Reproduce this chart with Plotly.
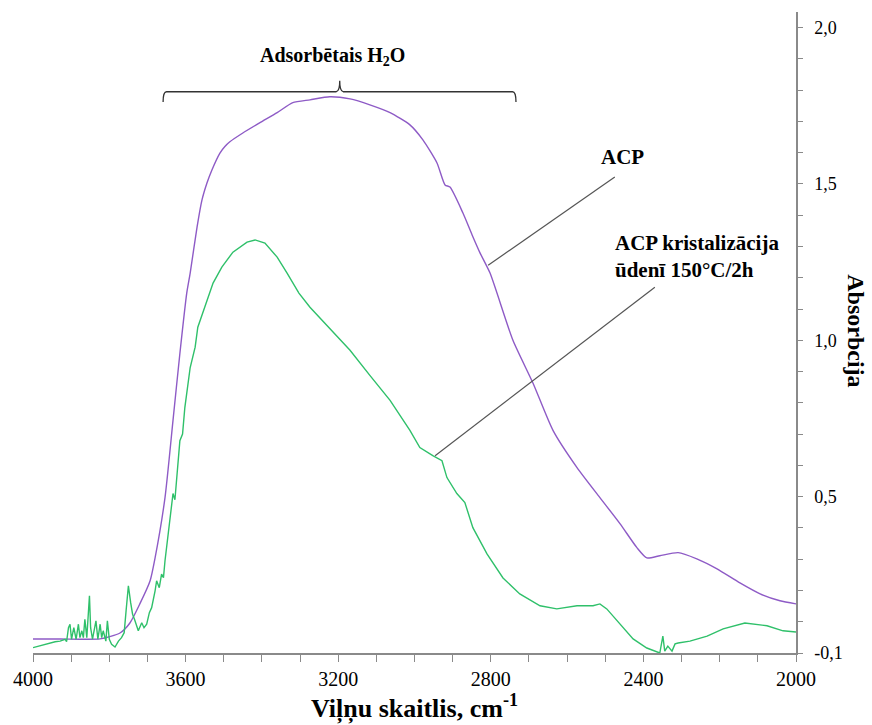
import plotly.graph_objects as go

# ---- data ----
acp_x = [4000, 3929, 3824, 3772, 3746, 3720, 3693, 3680, 3654, 3633, 3615, 3597, 3588, 3570,
         3557, 3544, 3531, 3510, 3497, 3484, 3450, 3405, 3360, 3319, 3274, 3222, 3169, 3117, 3064,
         3012, 2978, 2941, 2920, 2907, 2873, 2849, 2828, 2802, 2742, 2689, 2637, 2574, 2514,
         2461, 2417, 2391, 2357, 2309, 2260, 2207, 2147, 2094, 2042, 2000]
acp_y = [0.045, 0.045, 0.045, 0.064, 0.096, 0.157, 0.231, 0.304, 0.497, 0.744, 0.958, 1.151,
         1.215, 1.362, 1.449, 1.503, 1.545, 1.599, 1.620, 1.635, 1.663, 1.696, 1.728, 1.760, 1.769,
         1.779, 1.772, 1.753, 1.728, 1.689, 1.641, 1.567, 1.497, 1.490, 1.407, 1.337, 1.279,
         1.215, 1.000, 0.862, 0.712, 0.593, 0.497, 0.413, 0.337, 0.304, 0.311, 0.321, 0.301,
         0.269, 0.224, 0.189, 0.167, 0.157]

cryst_x = [4000, 3955, 3942, 3929, 3916, 3912, 3907, 3903, 3899, 3893, 3887, 3881, 3877, 3872,
           3868, 3864, 3859, 3852, 3849, 3844, 3839, 3835, 3830, 3824, 3820, 3816, 3809, 3805,
           3800, 3794, 3785, 3776, 3768, 3761, 3756, 3750, 3744, 3739, 3734, 3728, 3724, 3715,
           3709, 3702, 3695, 3689, 3685, 3680, 3676, 3669, 3663, 3658, 3654, 3646, 3640, 3633,
           3628, 3623, 3615, 3608, 3602, 3588, 3575, 3568, 3549, 3528, 3505, 3476, 3439, 3418,
           3392, 3360, 3334, 3303, 3274, 3222, 3169, 3117, 3064, 3012, 2986, 2952, 2928, 2915,
           2889, 2868, 2847, 2810, 2768, 2724, 2671, 2627, 2574, 2532, 2514, 2496, 2461, 2427,
           2391, 2357, 2349, 2344, 2336, 2325, 2317, 2309, 2278, 2233, 2191, 2134, 2076, 2034, 2000]
cryst_y = [0.017, 0.033, 0.036, 0.038, 0.044, 0.036, 0.081, 0.092, 0.044, 0.081, 0.044, 0.092,
           0.049, 0.071, 0.049, 0.108, 0.049, 0.183, 0.081, 0.044, 0.081, 0.103, 0.044, 0.092,
           0.049, 0.071, 0.038, 0.103, 0.044, 0.028, 0.019, 0.038, 0.049, 0.065, 0.135, 0.215,
           0.161, 0.124, 0.108, 0.081, 0.071, 0.097, 0.081, 0.092, 0.129, 0.145, 0.167, 0.199,
           0.231, 0.209, 0.252, 0.241, 0.295, 0.381, 0.450, 0.510, 0.490, 0.574, 0.679, 0.700,
           0.785, 0.913, 0.978, 1.042, 1.106, 1.183, 1.234, 1.282, 1.314, 1.321, 1.311, 1.266,
           1.215, 1.151, 1.106, 1.038, 0.968, 0.888, 0.808, 0.712, 0.657, 0.631, 0.615, 0.561,
           0.510, 0.481, 0.401, 0.317, 0.240, 0.189, 0.151, 0.141, 0.151, 0.151, 0.157, 0.141,
           0.093, 0.045, 0.016, 0.000, 0.054, 0.006, 0.022, 0.006, 0.029, 0.032, 0.038, 0.054,
           0.077, 0.096, 0.087, 0.071, 0.067]

x_tickvals = [4000, 3600, 3200, 2800, 2400, 2000]
x_ticktext = ["4000", "3600", "3200", "2800", "2400", "2000"]
y_tickvals = [0, 0.5, 1.0, 1.5, 2.0]
y_ticktext = ["-0,1", "0,5", "1,0", "1,5", "2,0"]

FONT = "Liberation Serif, Times New Roman, serif"
AXIS_GREY = "#8a8a8a"

fig = go.Figure()
fig.add_trace(go.Scatter(x=acp_x, y=acp_y, mode="lines", name="ACP",
                         line=dict(color="#8e5bc6", width=1.4, shape="spline", smoothing=0.6)))
fig.add_trace(go.Scatter(x=cryst_x, y=cryst_y, mode="lines", name="ACP kristalizācija",
                         line=dict(color="#2fc06a", width=1.4)))

# bracket over the water band
fig.add_shape(type="path", xref="x", yref="y",
              path=("M 3659,1.762 Q 3659,1.795 3650,1.795 L 3205,1.795 "
                    "Q 3196,1.797 3196,1.830 Q 3196,1.797 3187,1.795 "
                    "L 2743,1.795 Q 2734,1.795 2734,1.762"),
              line=dict(color="#333333", width=1.3))
# leader lines
fig.add_shape(type="line", xref="x", yref="y", x0=2475, y0=1.522, x1=2807, y1=1.240,
              line=dict(color="#555555", width=1.2))
fig.add_shape(type="line", xref="x", yref="y", x0=2370, y0=1.170, x1=2946, y1=0.631,
              line=dict(color="#555555", width=1.2))

fig.add_annotation(text="<b>Adsorbētais H<sub>2</sub>O</b>", xref="paper", yref="paper",
                   x=0.392, y=0.930, xanchor="center", yanchor="middle", showarrow=False,
                   font=dict(family=FONT, size=20, color="black"))
fig.add_annotation(text="<b>ACP</b>", xref="paper", yref="paper",
                   x=0.773, y=0.774, xanchor="center", yanchor="middle", showarrow=False,
                   font=dict(family=FONT, size=21, color="black"))
fig.add_annotation(text="<b>ACP kristalizācija<br>ūdenī 150°C/2h</b>", xref="paper", yref="paper",
                   x=0.760, y=0.619, xanchor="left", yanchor="middle", align="left", showarrow=False,
                   font=dict(family=FONT, size=21, color="black"))
fig.add_annotation(text="<b>Absorbcija</b>", xref="paper", yref="paper",
                   x=1.0786, y=0.502, xanchor="center", yanchor="middle", textangle=90,
                   showarrow=False, font=dict(family=FONT, size=24, color="black"))

fig.update_layout(
    width=872, height=725,
    margin=dict(l=33, r=76, t=12, b=72),
    paper_bgcolor="white", plot_bgcolor="white",
    showlegend=False,
    font=dict(family=FONT, color="black"),
    xaxis=dict(range=[4000, 2000], tickvals=x_tickvals, ticktext=x_ticktext,
               showgrid=False, zeroline=False, showline=True, linecolor=AXIS_GREY, linewidth=1.5,
               ticks="outside", ticklen=7, tickcolor=AXIS_GREY, tickwidth=1.2,
               tickfont=dict(family=FONT, size=20, color="black"),
               minor=dict(dtick=100, tick0=2000, ticks="outside", ticklen=7,
                          tickcolor=AXIS_GREY, tickwidth=1.2, showgrid=False),
               title=dict(text="<b>Viļņu skaitlis, cm<sup>-1</sup></b>",
                          font=dict(family=FONT, size=26, color="black"), standoff=2)),
    yaxis=dict(range=[0, 2.05], side="right", tickvals=y_tickvals, ticktext=y_ticktext,
               showgrid=False, zeroline=False, showline=True, linecolor=AXIS_GREY, linewidth=1.5,
               ticks="outside", ticklen=5, tickcolor=AXIS_GREY, tickwidth=1.2,
               ticklabelstandoff=8,
               tickfont=dict(family=FONT, size=18, color="black"),
               minor=dict(dtick=0.1, tick0=0, ticks="outside", ticklen=5,
                          tickcolor=AXIS_GREY, tickwidth=1.2, showgrid=False)),
)

fig.write_html("out.html")
